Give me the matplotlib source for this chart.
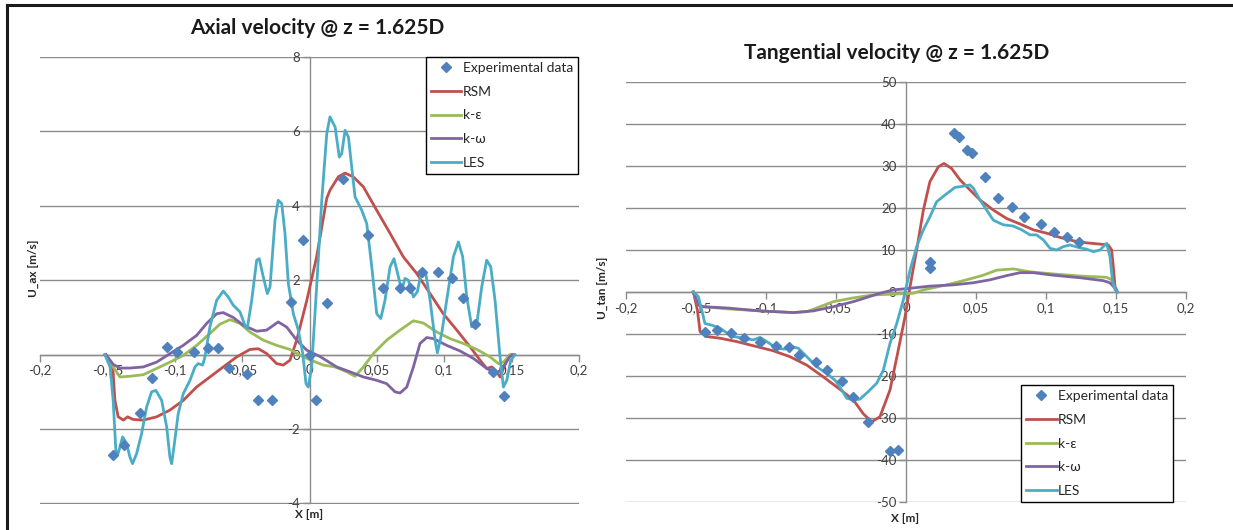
import matplotlib
matplotlib.use("Agg")
import matplotlib.pyplot as plt
from matplotlib.lines import Line2D
from matplotlib.ticker import FuncFormatter

plt.rcParams["font.family"] = ["Lato", "DejaVu Sans"]

# ---- axial velocity @ z = 1.625D ----
ax_exp_x = [-0.146, -0.1377, -0.1258, -0.117, -0.106, -0.098, -0.0855, -0.0756, -0.068,
            -0.0595, -0.0466, -0.038, -0.0276, -0.014, -0.005, 0.0, 0.0048, 0.0128,
            0.0251, 0.0437, 0.0548, 0.0672, 0.0746, 0.0833, 0.0954, 0.1056, 0.1137,
            0.1229, 0.1365, 0.1444]
ax_exp_y = [-2.70, -2.42, -1.58, -0.63, 0.21, 0.06, 0.06, 0.19, 0.19,
            -0.37, -0.53, -1.21, -1.21, 1.42, 3.08, 0.0, -1.22, 1.40,
            4.71, 3.21, 1.80, 1.79, 1.79, 2.22, 2.21, 2.07, 1.51,
            0.82, -0.46, -1.12]

ax_rsm_x = [-0.152, -0.146, -0.1444, -0.142, -0.138, -0.135, -0.131, -0.1234, -0.1134,
            -0.1036, -0.0937, -0.0838, -0.0739, -0.064, -0.054, -0.0442, -0.038, -0.0318,
            -0.0244, -0.0195, -0.0145, -0.0095, -0.002, 0.0053, 0.0128, 0.0152, 0.0214,
            0.0264, 0.0325, 0.04, 0.0499, 0.0598, 0.0696, 0.0796, 0.0895, 0.0993, 0.1093,
            0.1192, 0.1266, 0.1315, 0.1353, 0.139, 0.1414, 0.1444, 0.1476, 0.150]
ax_rsm_y = [0.0, -0.33, -1.23, -1.67, -1.76, -1.67, -1.74, -1.76, -1.67,
            -1.49, -1.23, -0.87, -0.60, -0.33, -0.06, 0.14, 0.16, 0.03,
            -0.24, -0.28, -0.15, 0.39, 1.46, 2.63, 4.20, 4.42, 4.78,
            4.88, 4.78, 4.51, 3.88, 3.26, 2.63, 2.18, 1.64, 1.10, 0.66,
            0.21, -0.15, -0.37, -0.33, -0.46, -0.60, -0.33, -0.04, 0.0]

ax_ke_x = [-0.151, -0.1457, -0.1407, -0.1333, -0.1234, -0.1134, -0.1035, -0.0937, -0.0837,
           -0.0739, -0.0665, -0.059, -0.0516, -0.0442, -0.0343, -0.0244, -0.0145, -0.0046,
           0.0053, 0.0103, 0.019, 0.0276, 0.0338, 0.04, 0.0474, 0.0573, 0.0672, 0.0771,
           0.0845, 0.0944, 0.1044, 0.1142, 0.1242, 0.134, 0.1402, 0.1439, 0.1489]
ax_ke_y = [0.0, -0.33, -0.60, -0.58, -0.54, -0.37, -0.20, -0.02, 0.25,
           0.57, 0.82, 0.94, 0.84, 0.61, 0.39, 0.25, 0.14, -0.06,
           -0.21, -0.28, -0.33, -0.46, -0.58, -0.33, 0.03, 0.39, 0.66, 0.91,
           0.85, 0.61, 0.43, 0.30, 0.14, -0.06, -0.24, -0.20, 0.0]

ax_kw_x = [-0.151, -0.1457, -0.1407, -0.1333, -0.1234, -0.1134, -0.1035, -0.0937, -0.0837,
           -0.0763, -0.0689, -0.064, -0.0566, -0.0491, -0.0392, -0.0318, -0.0232, -0.0169,
           -0.0095, -0.002, 0.0078, 0.0202, 0.03, 0.04, 0.05, 0.0573, 0.0635, 0.0672,
           0.0722, 0.0771, 0.082, 0.087, 0.092, 0.1018, 0.1117, 0.1216, 0.1315, 0.139,
           0.1439, 0.1489, 0.1514]
ax_kw_y = [0.0, -0.26, -0.36, -0.36, -0.33, -0.20, 0.03, 0.25, 0.52,
           0.84, 1.10, 1.13, 1.00, 0.79, 0.63, 0.66, 0.88, 0.74,
           0.39, 0.12, -0.05, -0.33, -0.46, -0.60, -0.69, -0.78, -1.00, -1.03,
           -0.87, -0.33, 0.30, 0.46, 0.43, 0.25, 0.10, -0.10, -0.37, -0.51,
           -0.33, -0.04, 0.0]

ax_les_x = [-0.1518, -0.148, -0.1457, -0.1437, -0.142, -0.1387, -0.1357, -0.1333, -0.1313,
            -0.1283, -0.1246, -0.1209, -0.1172, -0.114, -0.1097, -0.106, -0.1036, -0.1023,
            -0.1006, -0.0974, -0.0937, -0.0887, -0.085, -0.0826, -0.0793, -0.0776, -0.0739,
            -0.0689, -0.064, -0.0603, -0.0566, -0.0516, -0.0479, -0.0462, -0.0429, -0.0392,
            -0.0373, -0.0343, -0.0313, -0.0293, -0.0256, -0.0232, -0.0206, -0.0182, -0.0157,
            -0.012, -0.0083, -0.005, -0.0026, -0.0009, 0.0016, 0.0053, 0.0091, 0.0128,
            0.0152, 0.019, 0.0221, 0.0239, 0.0264, 0.0289, 0.0313, 0.0338, 0.0388, 0.0425,
            0.0462, 0.0499, 0.0529, 0.056, 0.0598, 0.0627, 0.066, 0.0684, 0.0709, 0.0734,
            0.0771, 0.08, 0.0833, 0.0863, 0.0895, 0.0932, 0.0949, 0.0981, 0.1018, 0.1068,
            0.1105, 0.1137, 0.1167, 0.1204, 0.1242, 0.1278, 0.1315, 0.1345, 0.1377, 0.1414,
            0.1439, 0.1464, 0.1494, 0.1526]
ax_les_y = [0.0, -0.33, -1.23, -2.57, -2.66, -2.21, -2.39, -2.75, -2.93,
            -2.66, -2.12, -1.41, -1.00, -0.96, -1.23, -1.94, -2.75, -2.93,
            -2.48, -1.58, -1.05, -0.69, -0.33, -0.24, -0.28, -0.06, 0.75,
            1.46, 1.71, 1.55, 1.33, 1.15, 0.79, 0.70, 1.46, 2.54,
            2.58, 2.09, 1.64, 1.82, 3.61, 4.15, 4.06, 3.26, 1.91,
            1.10, 0.66, 0.03, -0.78, -0.87, -0.33, 1.82, 4.15, 5.94,
            6.39, 6.12, 5.31, 5.40, 6.03, 5.85, 5.05, 4.24, 3.88, 3.52,
            2.36, 1.10, 0.97, 1.46, 2.36, 2.58, 2.09, 1.73, 2.05, 2.00,
            1.55, 1.69, 2.27, 2.18, 1.46, 0.39, 0.05, 0.57, 1.46, 2.63,
            3.03, 2.63, 1.55, 0.75, 0.84, 1.82, 2.54, 2.36, 1.46, -0.06,
            -0.87, -0.69, -0.15, 0.0]

# ---- tangential velocity @ z = 1.625D ----
tan_exp_x = [-0.1434, -0.1348, -0.125, -0.1155, -0.1043, -0.0929, -0.0836, -0.0762, -0.0645,
             -0.0567, -0.046, -0.0381, -0.0269, -0.0114, -0.0057, 0.0169, 0.0169, 0.0343,
             0.0379, 0.0438, 0.0469, 0.0564, 0.0655, 0.0755, 0.0845, 0.0962, 0.1057,
             0.1152, 0.1238]
tan_exp_y = [-9.45, -9.05, -9.8, -10.9, -11.8, -12.9, -13.2, -15.0, -16.7,
             -18.6, -21.1, -25.1, -30.9, -37.8, -37.5, 7.1, 5.7, 37.8,
             37.0, 33.8, 33.0, 27.3, 22.5, 20.2, 17.8, 16.2, 14.4,
             13.0, 12.0]

tan_rsm_x = [-0.1519, -0.149, -0.1471, -0.1424, -0.1329, -0.121, -0.1066, -0.0948, -0.0829,
             -0.0709, -0.0591, -0.0471, -0.0376, -0.0305, -0.0245, -0.0186, -0.0114, -0.0055,
             -0.0007, 0.0029, 0.0076, 0.0124, 0.0171, 0.0231, 0.0271, 0.0326, 0.0386,
             0.0457, 0.0529, 0.0624, 0.0719, 0.0814, 0.091, 0.1005, 0.11, 0.1195, 0.129,
             0.1386, 0.1445, 0.1469, 0.1481, 0.1493, 0.151]
tan_rsm_y = [0.0, -4.3, -9.45, -10.6, -11.0, -11.8, -13.0, -14.0, -15.4,
             -17.4, -20.2, -23.2, -25.7, -29.0, -30.9, -29.7, -23.3, -13.8,
             -5.9, 1.3, 10.0, 19.5, 26.3, 29.8, 30.6, 29.4, 26.7,
             24.3, 21.9, 19.5, 17.5, 16.2, 14.8, 14.0, 13.0, 12.2, 11.7,
             11.4, 11.2, 10.0, 6.0, 1.3, 0.0]

tan_ke_x = [-0.1519, -0.1483, -0.1448, -0.1281, -0.1043, -0.0805, -0.0709, -0.0614, -0.0519,
            -0.0376, -0.0234, -0.0091, 0.0052, 0.0124, 0.0291, 0.0433, 0.0552, 0.0648,
            0.0767, 0.0886, 0.1052, 0.1243, 0.1433, 0.1469, 0.1493, 0.151]
tan_ke_y = [0.0, -3.1, -3.5, -4.0, -4.5, -4.9, -4.7, -3.5, -2.3,
            -1.4, -0.7, -0.5, -0.3, 0.5, 1.7, 2.9, 4.0, 5.2,
            5.5, 4.8, 4.3, 3.8, 3.5, 2.9, 0.9, 0.0]

tan_kw_x = [-0.1519, -0.1483, -0.1448, -0.1281, -0.1043, -0.0805, -0.0662, -0.0519, -0.0376,
            -0.0281, -0.0186, -0.0091, 0.0005, 0.0171, 0.0338, 0.0481, 0.06, 0.0719,
            0.0814, 0.091, 0.1052, 0.1243, 0.1409, 0.1457, 0.1493, 0.151]
tan_kw_y = [0.0, -3.1, -3.5, -3.8, -4.5, -4.9, -4.5, -3.5, -2.3,
            -1.3, -0.3, 0.5, 0.8, 1.4, 1.7, 2.2, 2.9, 3.9,
            4.6, 4.6, 4.0, 3.4, 2.7, 2.2, 0.9, 0.0]

tan_les_x = [-0.1519, -0.1483, -0.1459, -0.1436, -0.1388, -0.1329, -0.1281, -0.1234, -0.1162,
             -0.1091, -0.1043, -0.0995, -0.0924, -0.0864, -0.0816, -0.0769, -0.0709, -0.0638,
             -0.0567, -0.0507, -0.0459, -0.0424, -0.0376, -0.0329, -0.0269, -0.0209, -0.0162,
             -0.0114, -0.0066, -0.0019, 0.0029, 0.0076, 0.0124, 0.0171, 0.0219, 0.0279,
             0.035, 0.041, 0.0457, 0.0481, 0.0529, 0.0576, 0.0624, 0.0695, 0.0767, 0.0826,
             0.0886, 0.0933, 0.0981, 0.1029, 0.1076, 0.1124, 0.1171, 0.1231, 0.129, 0.1338,
             0.1386, 0.1433, 0.1457, 0.1474, 0.1493, 0.151]
tan_les_y = [0.0, -1.1, -4.3, -7.5, -7.9, -8.6, -9.7, -10.6, -11.0,
             -11.4, -10.8, -11.8, -13.4, -13.6, -13.0, -13.4, -15.4, -17.8,
             -19.4, -21.0, -23.3, -25.3, -25.7, -25.5, -23.7, -21.7, -18.6,
             -12.2, -7.5, -1.9, 5.2, 10.8, 14.8, 17.9, 21.5, 23.1,
             24.9, 25.2, 25.5, 24.7, 21.9, 19.5, 17.1, 16.0, 15.7, 14.8,
             13.6, 13.6, 12.4, 10.4, 10.0, 10.8, 11.2, 10.6, 10.2, 9.6,
             10.0, 11.6, 8.4, 2.9, 0.5, 0.0]

LABELS = ["Experimental data", "RSM", "k-\u03b5", "k-\u03c9", "LES"]
C_EXP, C_RSM, C_KE, C_KW, C_LES = "#4F81BD", "#C0504D", "#9BBB59", "#8064A2", "#4BACC6"
GRID = "#8C8C8C"
TXT = "#404040"

W, H = 1233, 530
fig = plt.figure(figsize=(W / 100, H / 100), dpi=100)


def px_rect(x0, y0, x1, y1):
    return [x0 / W, 1 - y1 / H, (x1 - x0) / W, (y1 - y0) / H]


def comma(v, _):
    s = f"{v:g}"
    return s.replace(".", ",")


def style_axes(ax, ylim, ystep):
    ax.set_xlim(-0.2, 0.2)
    ax.set_ylim(*ylim)
    ax.set_xticks([-0.2, -0.15, -0.1, -0.05, 0, 0.05, 0.1, 0.15, 0.2])
    ax.set_yticks(range(ylim[0], ylim[1] + 1, ystep))
    ax.xaxis.set_major_formatter(FuncFormatter(comma))
    ax.yaxis.set_major_formatter(FuncFormatter(lambda v, _: f"{v:g}"))
    for side in ("top", "right"):
        ax.spines[side].set_visible(False)
    for side in ("left", "bottom"):
        ax.spines[side].set_position(("data", 0))
        ax.spines[side].set_color(GRID)
        ax.spines[side].set_linewidth(1.0)
    ax.tick_params(axis="both", direction="out", length=5, width=1.0,
                   color=GRID, labelcolor=TXT, labelsize=9.5, pad=2)
    ax.yaxis.grid(True, color=GRID, lw=1.0)
    ax.set_axisbelow(True)
    ax.patch.set_alpha(0)


def draw(ax, ex, ey, series):
    ax.plot(ex, ey, "D", color=C_EXP, ms=5, mec=C_EXP, ls="none",
            label=LABELS[0], zorder=5)
    for (x, y), c, lab in zip(series, (C_RSM, C_KE, C_KW, C_LES), LABELS[1:]):
        ax.plot(x, y, color=c, lw=2.0, label=lab, zorder=3, solid_joinstyle="round")


def legend(ax, loc, anchor):
    leg = ax.legend(loc=loc, bbox_to_anchor=anchor, fontsize=10, frameon=True,
                    fancybox=False, edgecolor="black", framealpha=1, numpoints=1,
                    handlelength=2.2, handletextpad=0.1, labelspacing=0.85,
                    borderpad=0.35, borderaxespad=0)
    leg.get_frame().set_linewidth(1.0)
    for t in leg.get_texts():
        t.set_color("#262626")
    return leg


ax1 = fig.add_axes(px_rect(40, 57, 579, 503.5))
style_axes(ax1, (-4, 8), 2)
draw(ax1, ax_exp_x, ax_exp_y,
     [(ax_rsm_x, ax_rsm_y), (ax_ke_x, ax_ke_y), (ax_kw_x, ax_kw_y), (ax_les_x, ax_les_y)])
legend(ax1, "upper right", (0.998, 1.0))

ax2 = fig.add_axes(px_rect(626, 82, 1186, 502))
style_axes(ax2, (-50, 50), 10)
draw(ax2, tan_exp_x, tan_exp_y,
     [(tan_rsm_x, tan_rsm_y), (tan_ke_x, tan_ke_y), (tan_kw_x, tan_kw_y), (tan_les_x, tan_les_y)])
legend(ax2, "lower right", (0.977, 0.0))

# titles and axis labels placed in figure pixels
fig.text(317 / W, 1 - 28 / H, "Axial velocity @ z = 1.625D", ha="center", va="center",
         fontsize=15, fontweight="bold", color="#1a1a1a")
fig.text(897 / W, 1 - 53 / H, "Tangential velocity @ z = 1.625D", ha="center", va="center",
         fontsize=15, fontweight="bold", color="#1a1a1a")
fig.text(33 / W, 1 - 268 / H, "U_ax [m/s]", rotation=90, ha="center", va="center",
         fontsize=8.5, fontweight="bold", color="#262626")
fig.text(602 / W, 1 - 288 / H, "U_tan [m/s]", rotation=90, ha="center", va="center",
         fontsize=8.5, fontweight="bold", color="#262626")
fig.text(309 / W, 1 - 514 / H, "X [m]", ha="center", va="center",
         fontsize=8.5, fontweight="bold", color="#262626")
fig.text(905 / W, 1 - 518 / H, "X [m]", ha="center", va="center",
         fontsize=8.5, fontweight="bold", color="#262626")

# outer frame (top and left edges)
fig.add_artist(Line2D([7 / W, 1.0], [1 - 5 / H, 1 - 5 / H], color="#1a1a1a", lw=2.2))
fig.add_artist(Line2D([7 / W, 7 / W], [0, 1 - 5 / H], color="#1a1a1a", lw=2.2))

fig.savefig("out.png", dpi=100)
